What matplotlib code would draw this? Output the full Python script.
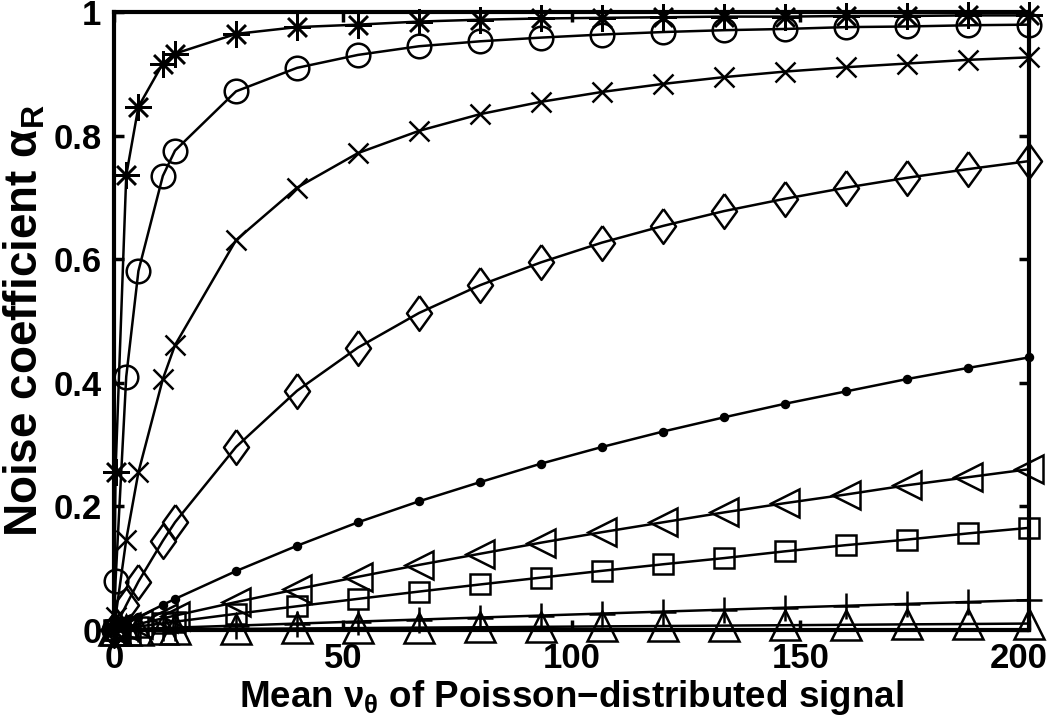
import numpy as np
import matplotlib
matplotlib.use("Agg")
import matplotlib.pyplot as plt
import matplotlib.transforms as mtransforms

# mean of the Poisson signal
x = [0, 0.33, 2.67, 5.33, 10.67, 13.33, 26.67, 40, 53.33, 66.67, 80, 93.33,
     106.67, 120, 133.33, 146.67, 160, 173.33, 186.67, 200]

# noise coefficient curves (top to bottom)
a_star = [0, 0.256, 0.736, 0.847, 0.917, 0.933, 0.965, 0.976, 0.980, 0.985,
          0.988, 0.990, 0.991, 0.992, 0.993, 0.993, 0.994, 0.994, 0.995, 0.995]
a_circle = [0, 0.079, 0.410, 0.581, 0.735, 0.776, 0.872, 0.910, 0.931, 0.945,
            0.953, 0.959, 0.964, 0.968, 0.971, 0.973, 0.976, 0.977, 0.979, 0.980]
a_cross = [0, 0.021, 0.146, 0.255, 0.406, 0.461, 0.631, 0.716, 0.772, 0.808,
           0.835, 0.855, 0.871, 0.884, 0.895, 0.904, 0.911, 0.917, 0.923, 0.927]
a_diamond = [0, 0.005, 0.040, 0.078, 0.144, 0.174, 0.296, 0.387, 0.457, 0.513,
             0.558, 0.595, 0.627, 0.654, 0.678, 0.698, 0.716, 0.732, 0.746, 0.759]
a_dot = [0, 0.0013, 0.0104, 0.0206, 0.0403, 0.0499, 0.095, 0.136, 0.174, 0.208,
         0.239, 0.269, 0.296, 0.321, 0.344, 0.366, 0.386, 0.406, 0.424, 0.441]
a_tleft = [0, 0.0006, 0.0047, 0.0093, 0.0184, 0.0229, 0.0448, 0.0657, 0.0857, 0.105,
           0.123, 0.141, 0.158, 0.174, 0.190, 0.205, 0.219, 0.234, 0.247, 0.260]
a_square = [0, 0.0003, 0.0026, 0.0052, 0.0104, 0.0130, 0.0257, 0.0380, 0.0500, 0.0618,
            0.0733, 0.0844, 0.0954, 0.106, 0.116, 0.127, 0.137, 0.146, 0.156, 0.165]
a_plus = [0, 0.0001, 0.0007, 0.0013, 0.0027, 0.0034, 0.0067, 0.0100, 0.0133, 0.0165,
          0.0198, 0.0230, 0.0262, 0.0294, 0.0325, 0.0357, 0.0388, 0.0419, 0.0450, 0.0480]
a_tup = [0, 0, 0.0001, 0.0003, 0.0005, 0.0007, 0.0013, 0.0020, 0.0027, 0.0034,
         0.0040, 0.0047, 0.0054, 0.0060, 0.0067, 0.0073, 0.0080, 0.0087, 0.0093, 0.0100]

xticks = [0, 50, 100, 150, 200]
yticks = [0, 0.2, 0.4, 0.6, 0.8, 1]
ytick_labels = ["0", "0.2", "0.4", "0.6", "0.8", "1"]

plt.rcParams["font.family"] = "Liberation Sans"
plt.rcParams["font.weight"] = "bold"
plt.rcParams["mathtext.fontset"] = "custom"
plt.rcParams["mathtext.rm"] = "Liberation Sans:bold"
plt.rcParams["mathtext.it"] = "Liberation Sans"
plt.rcParams["mathtext.bf"] = "Liberation Sans:bold"

fig = plt.figure(figsize=(10.5, 7.23), dpi=100)
ax = fig.add_axes([0.1086, 0.129, 0.8714, 0.854])

asterisk = (8, 2, 0)
tall_diamond = [(0, 1), (0.72, 0), (0, -1), (-0.72, 0), (0, 1)]

series = [
    (a_star, asterisk, 19),
    (a_circle, "o", 17),
    (a_cross, "x", 15),
    (a_diamond, tall_diamond, 25),
    (a_dot, ".", 10),
    (a_tleft, "<", 20),
    (a_square, "s", 14),
    (a_plus, "+", 19),
    (a_tup, "^", 21),
]
for y, m, ms in series:
    filled = m == "."
    ax.plot(x, y, color="black", lw=1.8, marker=m, ms=ms, mew=1.8,
            mfc="black" if filled else "none", mec="black", clip_on=False)

ax.set_xlim(0, 200)
ax.set_ylim(0, 1)
ax.set_xticks(xticks)
ax.set_yticks(yticks)
ax.set_yticklabels(ytick_labels)
ax.tick_params(direction="in", length=7, width=2.5, labelsize=25, pad=9,
               top=True, right=True)
for s in ax.spines.values():
    s.set_linewidth(3)

# last x label sits a little inside the figure edge
shift = mtransforms.ScaledTranslation(-0.1, 0, fig.dpi_scale_trans)
lab = ax.get_xticklabels()[-1]
lab.set_transform(lab.get_transform() + shift)

ax.set_xlabel(r"Mean $\nu_\theta$ of Poisson$-$distributed signal", fontsize=26.5,
              fontweight="bold", labelpad=2)
ax.set_ylabel(r"Noise coefficient $\alpha_\mathbf{R}$", fontsize=33,
              fontweight="bold", labelpad=4)

fig.savefig("out.png", dpi=100)
